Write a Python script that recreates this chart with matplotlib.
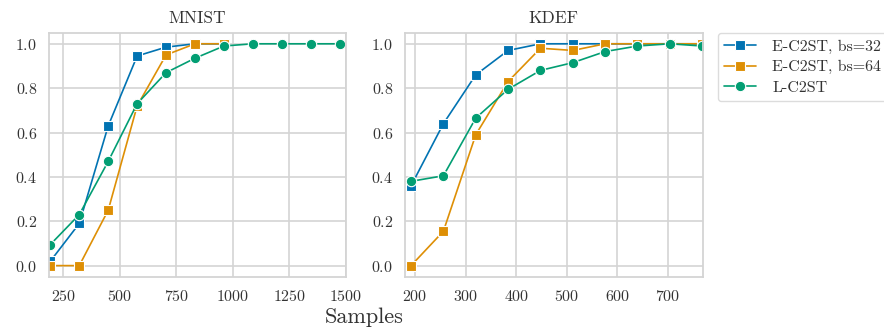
import matplotlib
matplotlib.use("Agg")
import matplotlib.pyplot as plt
import seaborn as sns

# MNIST
mnist_x = [192, 320, 448, 576, 704, 832, 960, 1088, 1216, 1344, 1472]
mnist_e32 = [0.02, 0.19, 0.63, 0.945, 0.985, 1.0, 1.0]
mnist_e64 = [0.0, 0.0, 0.25, 0.72, 0.95, 1.0, 1.0]
mnist_l = [0.095, 0.23, 0.47, 0.73, 0.87, 0.935, 0.99, 1.0, 1.0, 1.0, 1.0]

# KDEF
kdef_x = [192, 256, 320, 384, 448, 512, 576, 640, 704, 768]
kdef_e32 = [0.36, 0.64, 0.86, 0.97, 1.0, 1.0, 1.0, 1.0, 1.0, 1.0]
kdef_e64 = [0.0, 0.155, 0.59, 0.83, 0.98, 0.97, 1.0, 1.0, 1.0, 1.0]
kdef_l = [0.38, 0.405, 0.665, 0.795, 0.88, 0.915, 0.965, 0.99, 1.0, 0.99]

labels = ["E-C2ST, bs=32", "E-C2ST, bs=64", "L-C2ST"]

sns.set_style("whitegrid")
plt.rcParams["font.family"] = "serif"
plt.rcParams["font.serif"] = ["cmr10"]
plt.rcParams["mathtext.fontset"] = "cm"
plt.rcParams["axes.formatter.use_mathtext"] = True
plt.rcParams["axes.unicode_minus"] = False

pal = sns.color_palette("colorblind")
colors = [pal[0], pal[1], pal[2]]
markers = ["s", "s", "o"]

fig = plt.figure(figsize=(8.84, 3.28), dpi=100)
ax1 = fig.add_axes([49 / 884, 51.3 / 328, 297 / 884, 244 / 328])
ax2 = fig.add_axes([405 / 884, 51.3 / 328, 297.7 / 884, 244 / 328])


def draw(ax, x, series, title, xlim, xticks):
    for ys, c, m, lab in zip(series, colors, markers, labels):
        ax.plot(x[:len(ys)], ys, color=c, marker=m, markersize=7.5,
                markeredgecolor="white", markeredgewidth=0.8,
                linewidth=1.2, label=lab)
    ax.set_title(title, fontsize=12.5, color="#333333", pad=7)
    ax.set_xlim(*xlim)
    ax.set_ylim(-0.05, 1.05)
    ax.set_xticks(xticks)
    ax.set_yticks([0.0, 0.2, 0.4, 0.6, 0.8, 1.0])
    ax.tick_params(labelsize=11.5, colors="#333333", pad=5)
    ax.grid(True, color="#d4d4d4", linewidth=1.2)
    for s in ax.spines.values():
        s.set_color("#d4d4d4")
        s.set_linewidth(1.3)


draw(ax1, mnist_x, [mnist_e32, mnist_e64, mnist_l], "MNIST",
     (186, 1500), [250, 500, 750, 1000, 1250, 1500])
draw(ax2, kdef_x, [kdef_e32, kdef_e64, kdef_l], "KDEF",
     (180, 769), [200, 300, 400, 500, 600, 700])

handles, labs = ax1.get_legend_handles_labels()
fig.legend(handles, labs, loc="upper left", bbox_to_anchor=(718 / 884, 1 - 33 / 328),
           fontsize=11.5, frameon=True, edgecolor="#d4d4d4", handlelength=2.0,
           handletextpad=1.0, labelspacing=0.4, borderaxespad=0, labelcolor="#333333")

fig.text(364 / 884, 11 / 328, "Samples", ha="center", va="center",
         fontsize=16, color="#333333")

fig.savefig("out.png", dpi=100)
